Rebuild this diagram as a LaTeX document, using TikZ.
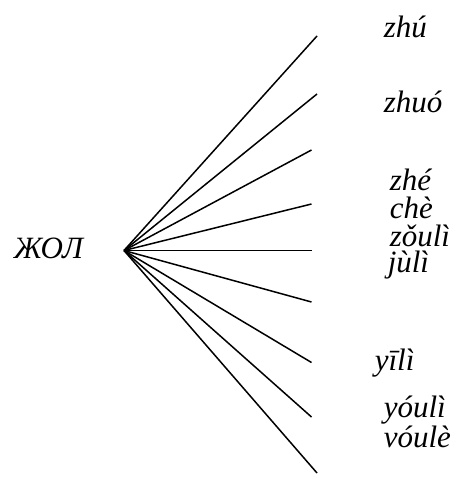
\documentclass[tikz,border=0pt]{standalone}
\usepackage{fontspec}
\setmainfont{Liberation Serif}
\usetikzlibrary{positioning}

\begin{document}
\begin{tikzpicture}[x=1pt, y=-1pt, line width=1.5pt,
  every node/.style={inner sep=0pt, anchor=base west, font=\fontsize{31}{33}\selectfont\itshape}]

  \useasboundingbox (0,0) rectangle (455,479);

  % Nodes
  \node (root) at (13,258) {ЖОЛ};
  \coordinate (hub) at (124,250.5);

  \node (zhu)   at (383,37)  {zhú};
  \node (zhuo)  at (383,112) {zhuó};
  \node (zhe)   at (389,190) {zhé};
  \node (che)   at (389,218) {chè};
  \node (zouli) at (389,246) {zǒulì};
  \node (juli)  at (387,272) {jùlì};
  \node (yili)  at (374,370) {yīlì};
  \node (youli) at (383,417) {yóulì};
  \node (voule) at (383,447) {vóulè};

  % Line ends
  \coordinate (e1) at (317,36);
  \coordinate (e2) at (317,94);
  \coordinate (e3) at (311.5,150);
  \coordinate (e4) at (311.5,204);
  \coordinate (e5) at (311.5,250.5);
  \coordinate (e6) at (311.5,302);
  \coordinate (e7) at (311.5,362.5);
  \coordinate (e8) at (311.5,417);
  \coordinate (e9) at (317,473);

  % Edges
  \draw (hub) -- (e1);
  \draw (hub) -- (e2);
  \draw (hub) -- (e3);
  \draw (hub) -- (e4);
  \draw (hub) -- (e5);
  \draw (hub) -- (e6);
  \draw (hub) -- (e7);
  \draw (hub) -- (e8);
  \draw (hub) -- (e9);

\end{tikzpicture}
\end{document}
